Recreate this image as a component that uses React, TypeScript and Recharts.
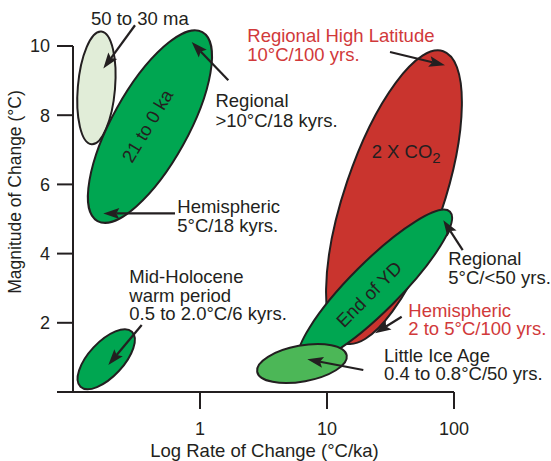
import React from "react";
import {
  ComposedChart,
  XAxis,
  YAxis,
  ReferenceArea,
  ReferenceLine,
  ReferenceDot,
  Label,
} from "recharts";

const INK = "#231f20";
const RED_TEXT = "#d1393a";
const FONT = '"Liberation Sans", Arial, Helvetica, sans-serif';

// each regime is an ellipse whose long axis runs from (rateLo, magLo) to (rateHi, magHi)
const regimes = ["50 to 30 ma", "21 to 0 ka", "Mid-Holocene", "2 X CO2", "End of YD", "Little Ice Age"];
const rateLo = [0.140, 0.156, 0.1146, 13.8, 6.13, 2.82];
const rateHi = [0.167, 1.044, 0.291, 82.2, 93.0, 14.3];
const magLo = [7.16, 4.94, 0.15, 1.41, 0.875, 0.586];
const magHi = [10.42, 10.40, 1.744, 9.85, 5.21, 1.06];

const rateTicks = [1, 10, 100];
const magTicks = [0, 2, 4, 6, 8, 10];

// callouts
const notes = [
  ["50 to 30 ma"],
  ["Regional", ">10°C/18 kyrs."],
  ["Hemispheric", "5°C/18 kyrs."],
  ["Mid-Holocene", "warm period", "0.5 to 2.0°C/6 kyrs."],
  ["Regional High Latitude", "10°C/100 yrs."],
  ["Regional", "5°C/<50 yrs."],
  ["Hemispheric", "2 to 5°C/100 yrs."],
  ["Little Ice Age", "0.4 to 0.8°C/50 yrs."],
];
const noteRate = [0.1386, 1.324, 0.6627, 0.2776, 2.357, 90.19, 43.67, 28.11];
const noteMag = [10.6, 8.238, 5.178, 3.139, 10.115, 3.667, 2.174, 0.875];

const arrowFromRate = [0.3078, 1.6707, 0.6355, 0.3475, 31.34, 117.1, 38.74, 19.31];
const arrowFromMag = [10.6, 9.01, 5.16, 1.935, 9.827, 4.1, 2.174, 0.635];
const arrowToRate = [0.1733, 0.8603, 0.1733, 0.1897, 84.96, 82.38, 23.88, 6.997];
const arrowToMag = [9.347, 10.115, 5.16, 0.78, 9.443, 4.967, 1.695, 0.944];

// styles
const fills = ["#e1edd8", "#00a651", "#00a651", "#c9342e", "#00a651", "#4cb757"];
const halfWidths = [18.6, 37.9, 17.3, 49.4, 24.7, 18];
const noteColors = [INK, INK, INK, INK, RED_TEXT, INK, RED_TEXT, INK];
const noteLeading = [19.5, 20, 19.5, 18.3, 19.3, 19, 18.3, 18.3];

const ellipseShape = (fill: string, ry: number) => (p: any) => {
  const { x, y, width, height } = p;
  const cx = x + width / 2;
  const cy = y + height / 2;
  const rx = Math.hypot(width, height) / 2;
  const ang = (Math.atan2(-height, width) * 180) / Math.PI;
  return (
    <ellipse
      cx={cx}
      cy={cy}
      rx={rx}
      ry={ry}
      fill={fill}
      stroke={INK}
      strokeWidth={2}
      transform={`rotate(${ang} ${cx} ${cy})`}
    />
  );
};

const arrowShape = (p: any) => {
  const { x1, y1, x2, y2 } = p;
  const dx = x2 - x1;
  const dy = y2 - y1;
  const len = Math.hypot(dx, dy) || 1;
  const ux = dx / len;
  const uy = dy / len;
  const nx = -uy;
  const ny = ux;
  const hl = 16;
  const hw = 5.5;
  const bx = x2 - ux * hl;
  const by = y2 - uy * hl;
  const mx = bx + ux * 3;
  const my = by + uy * 3;
  return (
    <g>
      <line x1={x1} y1={y1} x2={mx} y2={my} stroke={INK} strokeWidth={2.2} />
      <polygon
        points={`${x2},${y2} ${bx + nx * hw},${by + ny * hw} ${mx},${my} ${bx - nx * hw},${by - ny * hw}`}
        fill={INK}
      />
    </g>
  );
};

const noteShape = (lines: string[], color: string, leading: number) => (p: any) => (
  <text x={p.cx} y={p.cy} fill={color} fontSize={18.5} fontFamily={FONT}>
    {lines.map((l, i) => (
      <tspan key={i} x={p.cx} dy={i === 0 ? 0 : leading}>
        {l}
      </tspan>
    ))}
  </text>
);

const rotatedShape = (txt: string, angle: number) => (p: any) => (
  <text
    x={p.cx}
    y={p.cy}
    fill={INK}
    fontSize={18.5}
    fontFamily={FONT}
    textAnchor="middle"
    dominantBaseline="central"
    transform={`rotate(${angle} ${p.cx} ${p.cy})`}
  >
    {txt}
  </text>
);

const co2Shape = (p: any) => (
  <text x={p.cx} y={p.cy} fill={INK} fontSize={18.5} fontFamily={FONT}>
    2 X CO
    <tspan fontSize={15} dy={5}>
      2
    </tspan>
  </text>
);

const YTick = (p: any) => {
  if (p.payload.value === 0) return <g />;
  return (
    <text x={p.x} y={p.y} dy="0.36em" textAnchor="end" fill={INK} fontSize={18} fontFamily={FONT}>
      {p.payload.value}
    </text>
  );
};

const XTick = (p: any) => (
  <text x={p.x} y={p.y} dy="0.71em" textAnchor="middle" fill={INK} fontSize={18} fontFamily={FONT}>
    {p.payload.value}
  </text>
);

export default function App() {
  return (
    <div style={{ position: "absolute", left: 0, top: 0 }}>
      <ComposedChart
        width={551}
        height={461}
        margin={{ top: 46, right: 97, bottom: 39, left: 13 }}
        style={{ fontFamily: FONT }}
      >
        <XAxis
          type="number"
          dataKey="rate"
          scale="log"
          domain={[0.1, 100]}
          allowDataOverflow
          ticks={rateTicks}
          tick={<XTick />}
          tickSize={17}
          tickMargin={13}
          height={30}
          stroke={INK}
          strokeWidth={2}
        >
          <Label
            content={(p: any) => {
              const vb = p.viewBox || { x: 73, y: 392, width: 381 };
              return (
                <text
                  x={vb.x + vb.width / 2 + 1}
                  y={vb.y + 65}
                  textAnchor="middle"
                  fill={INK}
                  fontSize={18.5}
                  fontFamily={FONT}
                >
                  Log Rate of Change (°C/ka)
                </text>
              );
            }}
          />
        </XAxis>
        <YAxis
          type="number"
          dataKey="mag"
          domain={[0, 10]}
          allowDataOverflow
          ticks={magTicks}
          tick={<YTick />}
          tickSize={16}
          tickMargin={7}
          width={60}
          stroke={INK}
          strokeWidth={2}
        >
          <Label
            content={(p: any) => {
              const vb = p.viewBox || { x: 13, y: 46, height: 346 };
              const cx = vb.x + 8;
              const cy = vb.y + 146;
              return (
                <text
                  x={cx}
                  y={cy}
                  textAnchor="middle"
                  fill={INK}
                  fontSize={17.5}
                  fontFamily={FONT}
                  transform={`rotate(-90 ${cx} ${cy})`}
                >
                  Magnitude of Change (°C)
                </text>
              );
            }}
          />
        </YAxis>

        {regimes.map((name, i) => (
          <ReferenceArea
            key={name}
            x1={rateLo[i]}
            x2={rateHi[i]}
            y1={magLo[i]}
            y2={magHi[i]}
            ifOverflow="visible"
            shape={ellipseShape(fills[i], halfWidths[i])}
          />
        ))}

        <ReferenceDot x={0.3846} y={7.69} ifOverflow="visible" shape={rotatedShape(regimes[1], -59)} />
        <ReferenceDot x={21.41} y={2.83} ifOverflow="visible" shape={rotatedShape(regimes[4], -45)} />
        <ReferenceDot x={22.49} y={6.777} ifOverflow="visible" shape={co2Shape} />

        {arrowFromRate.map((r, i) => (
          <ReferenceLine
            key={"a" + i}
            segment={[
              { x: r, y: arrowFromMag[i] },
              { x: arrowToRate[i], y: arrowToMag[i] },
            ]}
            ifOverflow="visible"
            shape={arrowShape}
          />
        ))}

        {notes.map((lines, i) => (
          <ReferenceDot
            key={"n" + i}
            x={noteRate[i]}
            y={noteMag[i]}
            ifOverflow="visible"
            shape={noteShape(lines, noteColors[i], noteLeading[i])}
          />
        ))}
      </ComposedChart>
    </div>
  );
}
